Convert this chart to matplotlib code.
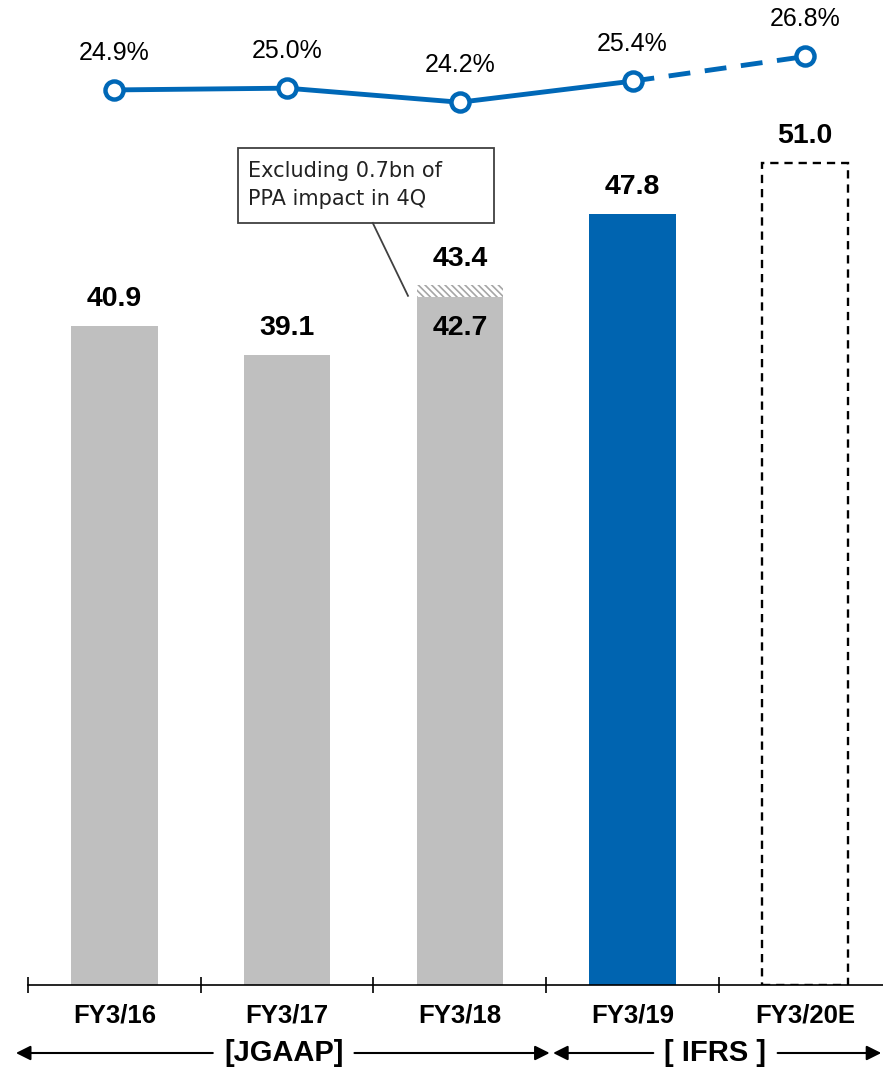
import matplotlib
matplotlib.use('Agg')
import matplotlib.pyplot as plt
import matplotlib.transforms as mtransforms
from matplotlib.patches import Rectangle

# Datos del grafico
anios = ['FY3/16', 'FY3/17', 'FY3/18', 'FY3/19', 'FY3/20E']
valores = [40.9, 39.1, 42.7, 47.8, 51.0]
ppa = 0.7                 # parte rayada encima de FY3/18
total_fy18 = 43.4
margen = [24.9, 25.0, 24.2, 25.4, 26.8]

GRIS = '#BFBFBF'
AZUL = '#0064B0'
LINEA = '#0068B7'

plt.rcParams['font.family'] = ['Liberation Sans', 'DejaVu Sans']

fig = plt.figure(figsize=(8.83, 10.67), dpi=100)
ax = fig.add_axes([28 / 883, 82 / 1067, 1 - 28 / 883, 985 / 1067])

x = list(range(len(anios)))
colores = [GRIS, GRIS, GRIS, AZUL]

# barras normales
ax.bar(x[:4], valores[:4], width=0.5, color=colores, zorder=2)
# barra estimada con borde discontinuo
ax.bar(x[4], valores[4], width=0.5, color='white', edgecolor='black',
       linewidth=1.7, linestyle=(0, (3.5, 2.5)), zorder=2)
# parte rayada (PPA)
plt.rcParams['hatch.color'] = '#A6A6A6'
plt.rcParams['hatch.linewidth'] = 1.2
ax.bar(x[2], ppa, bottom=valores[2], width=0.5, color='white',
       hatch='\\\\\\\\\\', linewidth=0, zorder=2)

# etiquetas de las barras
for i, v in enumerate(valores):
    if i == 2:
        ax.annotate(f'{v:.1f}', (x[i], v), xytext=(0, -31), textcoords='offset pixels',
                    ha='center', va='center', fontsize=20.5, fontweight='bold')
        ax.annotate(f'{total_fy18:.1f}', (x[i], total_fy18), xytext=(0, 26),
                    textcoords='offset pixels', ha='center', va='center',
                    fontsize=20.5, fontweight='bold')
    else:
        ax.annotate(f'{v:.1f}', (x[i], v), xytext=(0, 27), textcoords='offset pixels',
                    ha='center', va='center', fontsize=20.5, fontweight='bold')

# nota explicativa (caja + linea)
ax.add_patch(Rectangle((0.713, 47.27), 1.484, 4.65, fc='white', ec='#404040', lw=1.3, zorder=3))
ax.text(0.771, 49.6, 'Excluding 0.7bn of\nPPA impact in 4Q', ha='left', va='center',
        fontsize=15, family='DejaVu Sans', linespacing=1.5, color='#222222', zorder=4)
ax.plot([1.496, 1.70], [47.27, 42.75], color='#404040', lw=1.3, zorder=3)

ax.set_xlim(-0.5, 4.45)
ax.set_ylim(0, 61.1)
for s in ['top', 'right', 'left']:
    ax.spines[s].set_visible(False)
ax.spines['bottom'].set_linewidth(1.2)
ax.set_yticks([])
ax.set_xticks([-0.5, 0.5, 1.5, 2.5, 3.5])
ax.set_xticklabels([])
ax.tick_params(axis='x', which='major', direction='inout', length=12, width=1.2)
ax.set_xticks(x, minor=True)
ax.set_xticklabels(anios, minor=True, fontsize=18.5, fontweight='bold')
ax.tick_params(axis='x', which='minor', length=0, pad=13)

# linea del margen en eje secundario
ax2 = ax.twinx()
ax2.set_ylim(-25.96, 30.01)
ax2.axis('off')
ax2.plot(x[:4], margen[:4], color=LINEA, lw=3.5, zorder=3)
ax2.plot(x[3:], margen[3:], color=LINEA, lw=3.5, linestyle=(0, (4.5, 3)), zorder=3)
ax2.plot(x, margen, linestyle='none', marker='o', markersize=13, markeredgewidth=3.2,
         markerfacecolor='white', markeredgecolor=LINEA, zorder=4)
for i, m in enumerate(margen):
    ax2.annotate(f'{m:.1f}%', (x[i], m), xytext=(0, 37), textcoords='offset pixels',
                 ha='center', va='center', fontsize=18)

# flechas de JGAAP / IFRS
trans = mtransforms.blended_transform_factory(ax.transData, fig.transFigure)
yf = 1 - 1053 / 1067
flecha = dict(arrowstyle='-|>', color='black', lw=1.5, mutation_scale=22, shrinkA=0, shrinkB=0)
ax.text(0.98, yf, '[JGAAP]', transform=trans, ha='center', va='center',
        fontsize=21, fontweight='bold')
ax.annotate('', xy=(-0.57, yf), xytext=(0.57, yf), xycoords=trans, textcoords=trans, arrowprops=flecha)
ax.annotate('', xy=(2.52, yf), xytext=(1.39, yf), xycoords=trans, textcoords=trans, arrowprops=flecha)
ax.text(3.48, yf, '[ IFRS ]', transform=trans, ha='center', va='center',
        fontsize=21, fontweight='bold')
ax.annotate('', xy=(2.54, yf), xytext=(3.12, yf), xycoords=trans, textcoords=trans, arrowprops=flecha)
ax.annotate('', xy=(4.44, yf), xytext=(3.84, yf), xycoords=trans, textcoords=trans, arrowprops=flecha)

fig.savefig('out.png', dpi=100)
